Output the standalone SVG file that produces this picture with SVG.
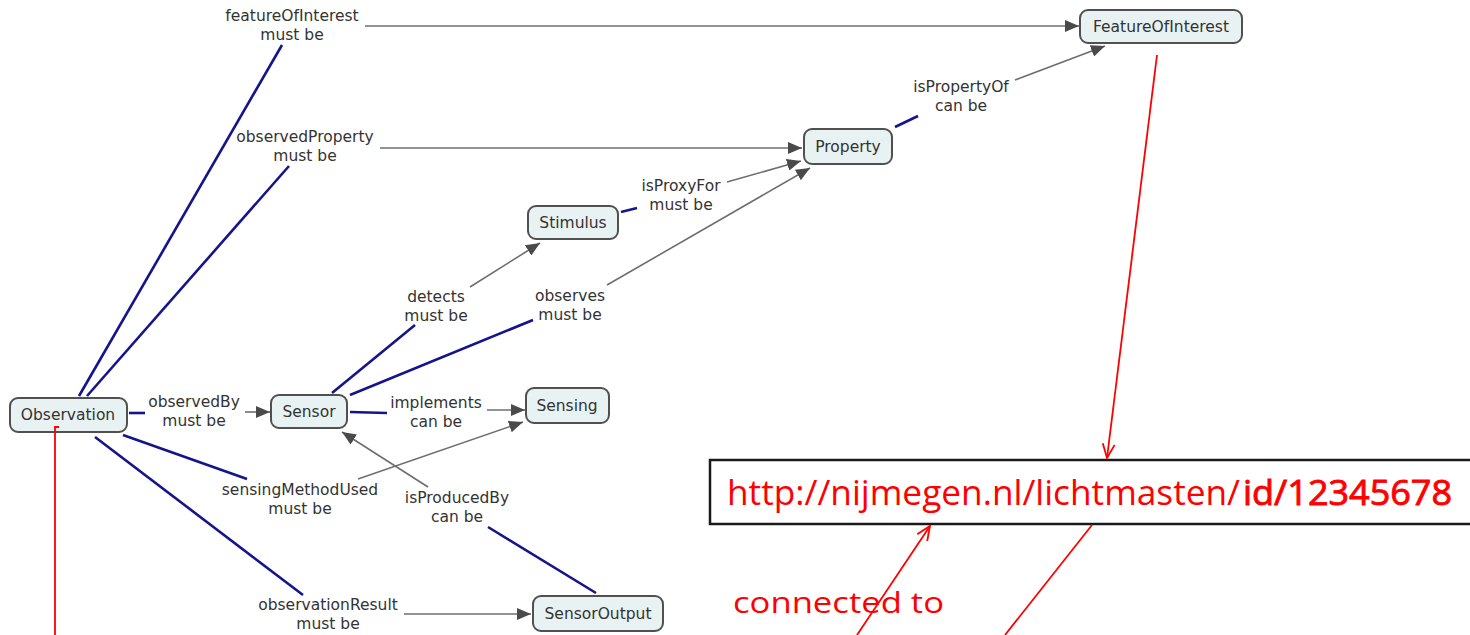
<svg xmlns="http://www.w3.org/2000/svg" width="1470" height="635" viewBox="0 0 1470 635">
  <defs>
    <style>
      .node rect { fill: #e8f2f2; stroke: #505050; stroke-width: 2; }
      .node text { font-family: "DejaVu Sans", Verdana, sans-serif; font-size: 15.5px; fill: #333; text-anchor: middle; }
      .lbl { font-family: "DejaVu Sans", Verdana, sans-serif; font-size: 15.5px; fill: #333; text-anchor: middle; }
      .blue { stroke: #14148c; stroke-width: 2.6; fill: none; stroke-linecap: butt; }
      .gray { stroke: #6e6e6e; stroke-width: 1.6; fill: none; marker-end: url(#tri); }
      .red { stroke: #ff0000; stroke-width: 1.8; fill: none; }
      .redtxt { font-family: "Open Sans", "Noto Sans", "Liberation Sans", sans-serif; fill: #ff0000; }
    </style>
    <marker id="tri" viewBox="0 0 14 12" refX="14" refY="6" markerWidth="14" markerHeight="12" markerUnits="userSpaceOnUse" orient="auto">
      <path d="M0,0 L14,6 L0,12 Z" fill="#4a4a4a"/>
    </marker>
    <marker id="vee" viewBox="0 0 16 14" refX="15" refY="7" markerWidth="16" markerHeight="14" markerUnits="userSpaceOnUse" orient="auto">
      <path d="M1,1 L15,7 L1,13" fill="none" stroke="#ff0000" stroke-width="1.8"/>
    </marker>
  </defs>

  <rect width="1470" height="635" fill="#ffffff"/>

  <!-- connectors -->
  <g id="connectors">
    <!-- source halves -->
    <line class="blue" x1="79" y1="396" x2="282" y2="45"/>
    <line class="blue" x1="87" y1="396" x2="289" y2="166"/>
    <line class="blue" x1="895" y1="127" x2="918" y2="116"/>
    <line class="blue" x1="621" y1="212" x2="637" y2="208"/>
    <line class="blue" x1="332" y1="393" x2="415" y2="325"/>
    <line class="blue" x1="350" y1="395" x2="533" y2="320"/>
    <line class="blue" x1="129" y1="413" x2="145" y2="413"/>
    <line class="blue" x1="350" y1="412" x2="387" y2="413"/>
    <line class="blue" x1="123" y1="435" x2="247" y2="479"/>
    <line class="blue" x1="596" y1="593" x2="488" y2="527"/>
    <line class="blue" x1="95" y1="437" x2="303" y2="595"/>
    <!-- target halves -->
    <line class="gray" x1="365" y1="26" x2="1079" y2="26"/>
    <line class="gray" x1="380" y1="148" x2="802" y2="148"/>
    <line class="gray" x1="1015" y1="80" x2="1105" y2="46"/>
    <line class="gray" x1="727" y1="182" x2="801" y2="161"/>
    <line class="gray" x1="470" y1="287" x2="540" y2="243"/>
    <line class="gray" x1="607" y1="285" x2="810" y2="168"/>
    <line class="gray" x1="245" y1="412" x2="270" y2="412"/>
    <line class="gray" x1="487" y1="410" x2="525" y2="410"/>
    <line class="gray" x1="358" y1="479" x2="523" y2="422"/>
    <line class="gray" x1="428" y1="487" x2="342" y2="432"/>
    <line class="gray" x1="404" y1="614" x2="531" y2="614"/>
  </g>

  <!-- link labels -->
  <g id="labels">
    <text class="lbl" x="292" y="21">featureOfInterest</text>
    <text class="lbl" x="292" y="40">must be</text>
    <text class="lbl" x="305" y="142">observedProperty</text>
    <text class="lbl" x="305" y="161">must be</text>
    <text class="lbl" x="961" y="92">isPropertyOf</text>
    <text class="lbl" x="961" y="111">can be</text>
    <text class="lbl" x="681" y="191">isProxyFor</text>
    <text class="lbl" x="681" y="210">must be</text>
    <text class="lbl" x="436" y="302">detects</text>
    <text class="lbl" x="436" y="321">must be</text>
    <text class="lbl" x="570" y="301">observes</text>
    <text class="lbl" x="570" y="320">must be</text>
    <text class="lbl" x="194" y="407">observedBy</text>
    <text class="lbl" x="194" y="426">must be</text>
    <text class="lbl" x="436" y="408">implements</text>
    <text class="lbl" x="436" y="427">can be</text>
    <text class="lbl" x="300" y="495">sensingMethodUsed</text>
    <text class="lbl" x="300" y="514">must be</text>
    <text class="lbl" x="457" y="503">isProducedBy</text>
    <text class="lbl" x="457" y="522">can be</text>
    <text class="lbl" x="328" y="610">observationResult</text>
    <text class="lbl" x="328" y="629">must be</text>
  </g>

  <!-- concepts -->
  <g id="node-observation" class="node">
    <rect x="10" y="398" width="117" height="34" rx="8"/>
    <text x="68" y="420">Observation</text>
  </g>
  <g id="node-sensor" class="node">
    <rect x="271" y="395" width="76" height="33" rx="8"/>
    <text x="309" y="417">Sensor</text>
  </g>
  <g id="node-sensing" class="node">
    <rect x="526" y="388" width="83" height="35" rx="8"/>
    <text x="567" y="411">Sensing</text>
  </g>
  <g id="node-sensoroutput" class="node">
    <rect x="533" y="596" width="130" height="35" rx="8"/>
    <text x="598" y="619">SensorOutput</text>
  </g>
  <g id="node-stimulus" class="node">
    <rect x="528" y="206" width="90" height="33" rx="8"/>
    <text x="573" y="228">Stimulus</text>
  </g>
  <g id="node-property" class="node">
    <rect x="804" y="129" width="88" height="35" rx="8"/>
    <text x="848" y="152">Property</text>
  </g>
  <g id="node-featureofinterest" class="node">
    <rect x="1080" y="10" width="162" height="33" rx="8"/>
    <text x="1161" y="32">FeatureOfInterest</text>
  </g>

  <!-- URI annotation -->
  <g id="uri-box">
    <rect x="710" y="460" width="775" height="64" fill="#ffffff" stroke="#1a1a1a" stroke-width="2.5"/>
    <text class="redtxt" x="727" y="505" font-size="35" textLength="513" lengthAdjust="spacingAndGlyphs">http://nijmegen.nl/lichtmasten/</text>
    <text class="redtxt" x="1243" y="505" font-size="35" stroke="#ff0000" stroke-width="0.9" textLength="209" lengthAdjust="spacingAndGlyphs">id/12345678</text>
  </g>
  <g id="annotation">
    <line class="red" x1="1157" y1="55" x2="1107" y2="458" marker-end="url(#vee)"/>
    <line class="red" x1="857" y1="635" x2="930" y2="526" marker-end="url(#vee)"/>
    <line class="red" x1="1092" y1="525" x2="1005" y2="635"/>
    <polyline class="red" points="59,427 55,427 55,635"/>
    <text class="redtxt" x="733" y="613" font-size="30" textLength="211" lengthAdjust="spacingAndGlyphs">connected to</text>
  </g>
</svg>
